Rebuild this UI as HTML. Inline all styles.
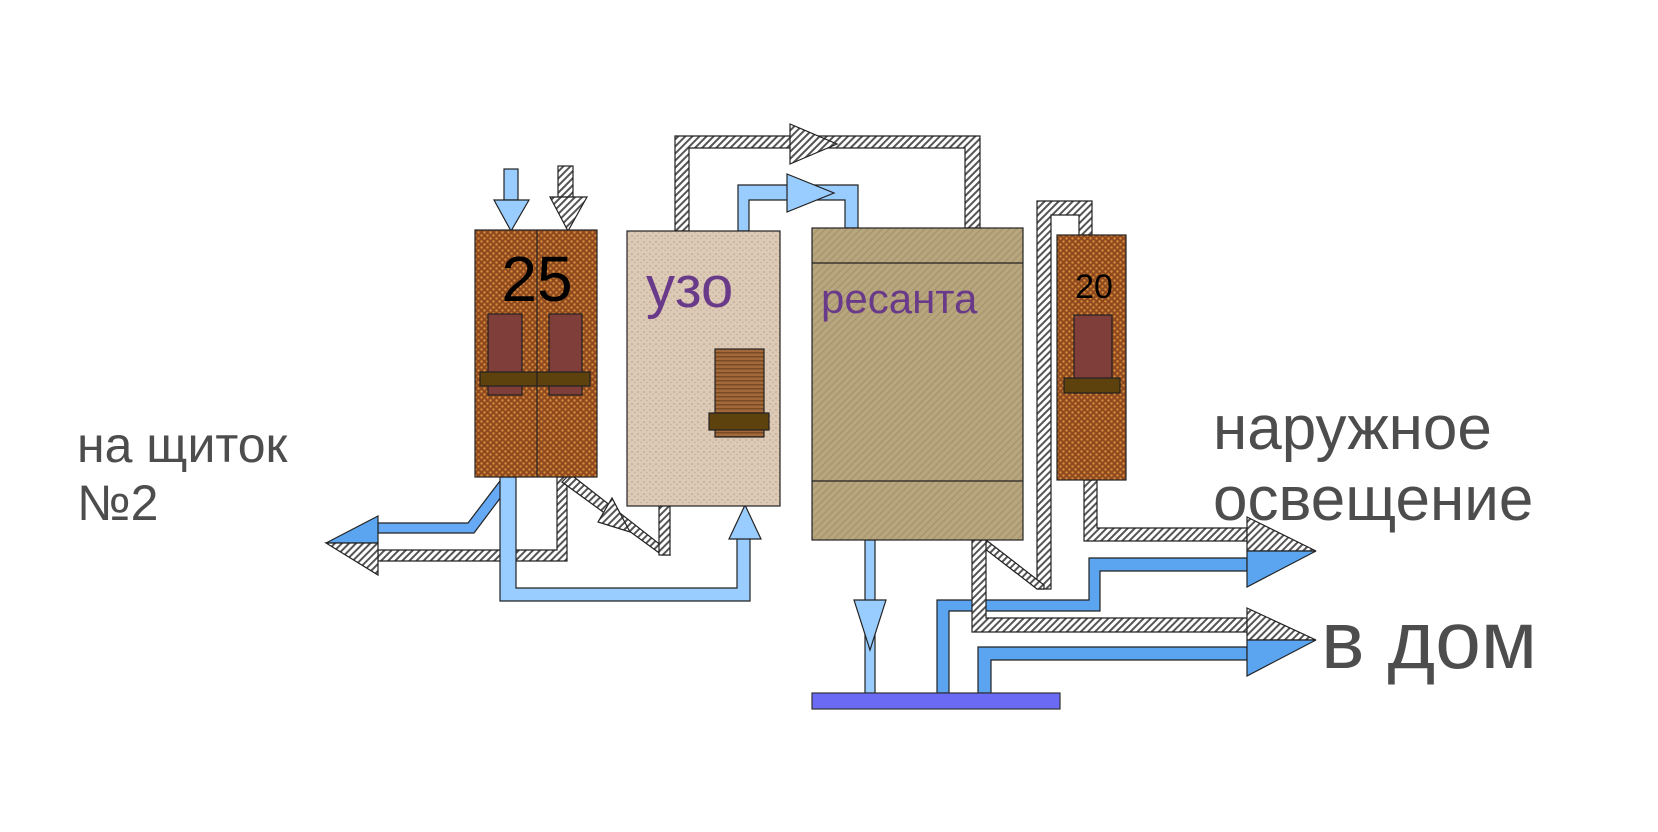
<!DOCTYPE html>
<html><head><meta charset="utf-8"><style>
html,body{margin:0;padding:0;background:#fff;width:1658px;height:832px;overflow:hidden}
svg{display:block}
text{font-family:"Liberation Sans",sans-serif}
</style></head><body>
<svg width="1658" height="832" viewBox="0 0 1658 832" xmlns="http://www.w3.org/2000/svg">
<defs>
<pattern id="h" width="5" height="5" patternUnits="userSpaceOnUse" patternTransform="rotate(45)">
<rect width="5" height="5" fill="#fff"/><rect width="2" height="5" fill="#555"/></pattern>
<pattern id="br" width="6" height="6" patternUnits="userSpaceOnUse">
<rect width="6" height="6" fill="#8e4a1e"/><circle cx="1.5" cy="1.5" r="1.2" fill="#d88a3a"/><circle cx="4.5" cy="4.5" r="1.2" fill="#d88a3a"/></pattern>
<pattern id="uz" width="6" height="6" patternUnits="userSpaceOnUse">
<rect width="6" height="6" fill="#dccab6"/><circle cx="2" cy="2" r="0.8" fill="#b89a80"/><circle cx="5" cy="4.5" r="0.7" fill="#c4ab92"/></pattern>
<pattern id="rs" width="5" height="5" patternUnits="userSpaceOnUse" patternTransform="rotate(45)">
<rect width="5" height="5" fill="#b8a67e"/><rect width="1.5" height="5" fill="#a8966e"/></pattern>
<pattern id="kn" width="4" height="4" patternUnits="userSpaceOnUse">
<rect width="4" height="4" fill="#a2683a"/><rect width="4" height="1.5" fill="#7a4a22"/></pattern>
</defs>
<g stroke="#222" stroke-width="1.2">
<!-- top loops -->
<path d="M675,231 V136 H980 V228 H965 V148 H689 V231 Z" fill="url(#h)"/>
<polygon points="790,124 837,144 790,164" fill="url(#h)"/>
<path d="M738,231 V185 H858 V228 H845 V200 H749 V231 Z" fill="#99ccff"/>
<polygon points="787,174 834,193 787,212" fill="#99ccff"/>
<!-- inputs -->
<rect x="504" y="169" width="14" height="31" fill="#99ccff"/>
<polygon points="494,200 529,200 511,231" fill="#99ccff"/>
<rect x="558" y="166" width="15" height="31" fill="url(#h)"/>
<polygon points="550,197 587,197 568,231" fill="url(#h)"/>
<!-- left outputs -->
<path d="M557,477 H567 V561 H378 V550 H557 Z" fill="url(#h)"/>
<path d="M378,523 H468 L503,477 H516 L474,533 H378 Z" fill="#66aaf5"/>
<polygon points="378,516 326,543 378,543" fill="#5ba4f0"/>
<polygon points="378,543 326,543 378,575" fill="url(#h)"/>
<path d="M500,477 H516 V588 H737 V537 H750 V601 H500 Z" fill="#99ccff"/>
<polygon points="729,539 761,539 745,505" fill="#99ccff"/>
<path d="M567,477 L574,477 L667,550 L670,555 H662 L562,482 Z" fill="url(#h)"/>
<rect x="659" y="506" width="11" height="49" fill="url(#h)"/>
<polygon points="598,522 612,498 630,532" fill="url(#h)"/>
<!-- right side -->
<path d="M1037,589 V201 H1092 V235 H1079 V215 H1051 V589 Z" fill="url(#h)"/>
<polygon points="986,540 1044,585 1044,589 1037,589 980,545" fill="url(#h)"/>
<path d="M1084,480 H1097 V528 H1247 V541 H1084 Z" fill="url(#h)"/>
<polygon points="1247,517 1316,551 1247,551" fill="url(#h)"/>
<path d="M937,693 V600 H1089 V558 H1247 V571 H1100 V611 H949 V693 Z" fill="#5ba4f0"/>
<polygon points="1247,551 1316,551 1247,587" fill="#5ba4f0"/>
<path d="M972,540 H986 V618 H1247 V632 H972 Z" fill="url(#h)"/>
<polygon points="1247,608 1316,640 1247,640" fill="url(#h)"/>
<path d="M978,693 V647 H1247 V660 H991 V693 Z" fill="#5ba4f0"/>
<polygon points="1247,640 1316,640 1247,676" fill="#5ba4f0"/>
<rect x="865" y="540" width="10" height="153" fill="#99ccff"/>
<polygon points="854,600 886,600 870,650" fill="#99ccff"/>
<rect x="812" y="693" width="248" height="16" fill="#6a6af5" stroke="#333"/>
<!-- breaker 25 -->
<rect x="475" y="230" width="122" height="247" fill="url(#br)"/>
<line x1="537" y1="230" x2="537" y2="477"/>
<rect x="488" y="314" width="34" height="81" fill="#7f3e3a"/>
<rect x="549" y="314" width="33" height="81" fill="#7f3e3a"/>
<rect x="480" y="372" width="110" height="14" fill="#5e420e"/>
<line x1="537" y1="372" x2="537" y2="386"/>
<!-- uzo -->
<rect x="627" y="231" width="153" height="275" fill="url(#uz)"/>
<rect x="715" y="349" width="49" height="88" fill="url(#kn)"/>
<rect x="709" y="413" width="60" height="17" fill="#5e420e"/>
<!-- resanta -->
<rect x="812" y="228" width="211" height="312" fill="url(#rs)"/>
<line x1="812" y1="263" x2="1023" y2="263"/>
<line x1="812" y1="481" x2="1023" y2="481"/>
<!-- breaker 20 -->
<rect x="1057" y="235" width="69" height="245" fill="url(#br)"/>
<rect x="1074" y="315" width="38" height="78" fill="#7f3e3a"/>
<rect x="1064" y="378" width="56" height="15" fill="#5e420e"/>
</g>
<text x="537" y="301" font-size="64" text-anchor="middle" fill="#000">25</text>
<text x="1094" y="298" font-size="34" text-anchor="middle" fill="#000">20</text>
<text x="646" y="307" font-size="58" fill="#6a3a8a">узо</text>
<text x="821" y="313" font-size="42" fill="#6a3a8a">ресанта</text>
<g fill="#4d4d4d">
<text x="77" y="462" font-size="50">на щиток</text>
<text x="77" y="520" font-size="50">№2</text>
<text x="1213" y="449" font-size="62">наружное</text>
<text x="1213" y="520" font-size="62">освещение</text>
<text x="1321" y="668" font-size="82">в дом</text>
</g>
</svg>
</body></html>
